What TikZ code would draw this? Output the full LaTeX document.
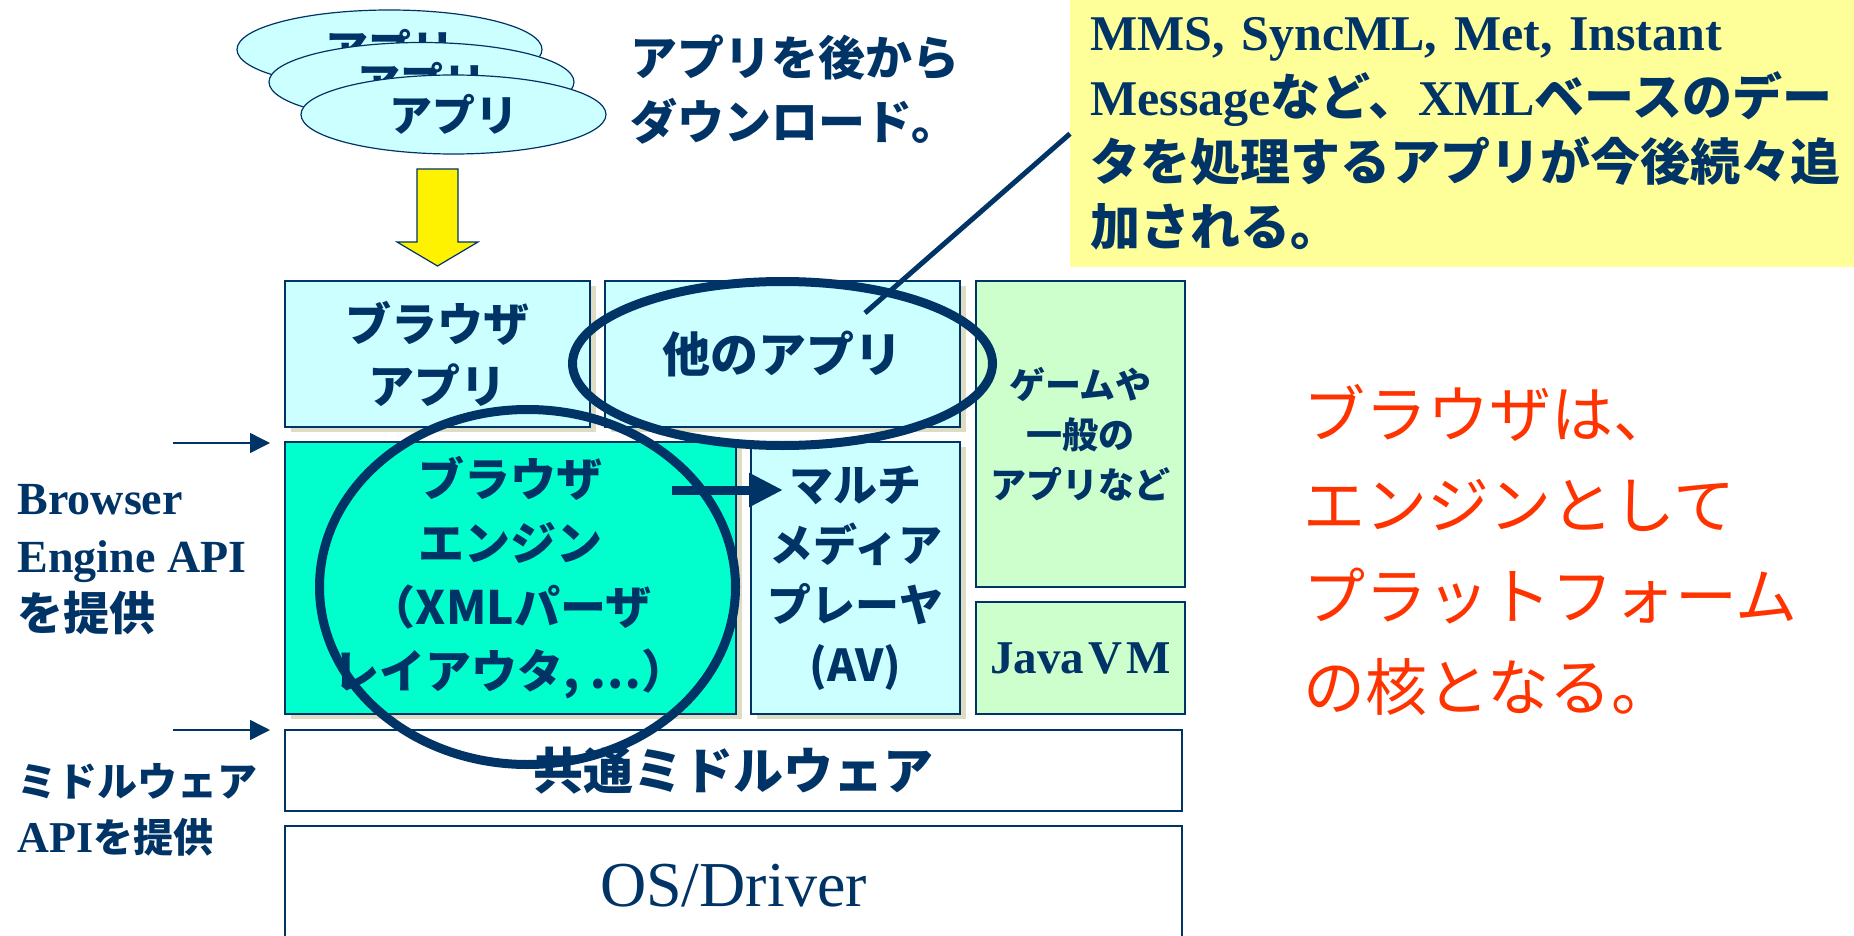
\documentclass[tikz,border=0pt]{standalone}
\usepackage{fontspec}
\setmainfont{Liberation Serif}
\newfontfamily\jpfont{Noto Sans CJK JP}
\usetikzlibrary{shapes.geometric,arrows.meta}

\definecolor{navy}{HTML}{003366}
\definecolor{paleCyan}{HTML}{CCFFFF}
\definecolor{engineTeal}{HTML}{00FFCC}
\definecolor{paleGreen}{HTML}{CCFFCC}
\definecolor{noteYellow}{HTML}{FFFF99}
\definecolor{shadowBeige}{HTML}{DEDCC2}
\definecolor{alertRed}{HTML}{FF3300}

\newcommand{\jp}[1]{{\jpfont\bfseries #1}}
\newcommand{\jpsize}[2]{\fontsize{#1}{#2}\selectfont\jpfont\bfseries}

\tikzset{
  layer/.style = {draw=navy, line width=1.2pt},
  shade/.style = {fill=shadowBeige},
  caption/.style = {text=navy, align=center},
  appDisc/.style = {ellipse, draw=navy, line width=1.2pt, fill=paleCyan,
    minimum width=305, minimum height=79, inner sep=0pt, text=navy,
    font=\jpsize{43}{43}},
  ring/.style = {ellipse, draw=navy, line width=9pt, inner sep=0pt},
  apiArrow/.style = {draw=navy, line width=1.5pt, -{Triangle[length=20pt, width=20pt]}},
  flowArrow/.style = {draw=navy, line width=9pt, -{Triangle[length=34pt, width=32pt]}},
  callout/.style = {draw=navy, line width=5pt},
}

\begin{document}
\begin{tikzpicture}[x=1pt, y=-1pt]
  \useasboundingbox (0,0) rectangle (1854,936);

  % downloaded apps
  \node[appDisc] (appBack) at (389.5,49.5) {アプリ};
  \node[appDisc] (appMid) at (421.5,82) {アプリ};
  \node[appDisc] (appFront) at (453.5,114.5) {アプリ};
  \draw[fill=yellow, draw=navy, line width=1.2pt] (417,169) -- (458,169) -- (458,242)
    -- (478,242) -- (437.5,266) -- (397,242) -- (417,242) -- cycle;
  \node[caption, align=left, anchor=west, font=\jpsize{47}{64}] (dlNote) at (627,90)
    {アプリを後から\\ダウンロード。};

  % note
  \node[fill=noteYellow, anchor=north west, minimum width=784, minimum height=267,
    text width=744, inner xsep=20pt, align=left, text=navy,
    font=\fontsize{50}{65}\selectfont] (note) at (1070,0)
    {{\bfseries MMS, SyncML, Met, Instant}\\
     {\bfseries Message}\jp{など、}{\bfseries XML}\jp{ベースのデー}\\
     \jp{タを処理するアプリが今後続々追}\\
     \jp{加される。}};

  % shadows
  \fill[shade] (291,286) rectangle (596,432);
  \fill[shade] (611,286) rectangle (966,432);
  \fill[shade] (291,447) rectangle (742,719);
  \fill[shade] (757,447) rectangle (966,719);

  % layers
  \draw[layer, fill=paleCyan] (285,281) rectangle node[caption, font=\jpsize{46}{62}] (browserApp) {ブラウザ\\アプリ} (590,427);
  \draw[layer, fill=paleCyan] (605,281) rectangle node[caption, font=\jpsize{48}{48}] (otherApp) {他のアプリ} (960,427);
  \draw[layer, fill=paleGreen] (976,281) rectangle node[caption, font=\jpsize{36}{50}] (gameApp) {ゲームや\\一般の\\アプリなど} (1185,587);
  \draw[layer, fill=engineTeal] (285,442) rectangle node[caption, font=\jpsize{46}{64}] (engine) {ブラウザ\\エンジン\\（XMLパーザ\\レイアウタ, …）} (736,714);
  \draw[layer, fill=paleCyan] (751,442) rectangle node[caption, font=\jpsize{44}{60}] (media) {マルチ\\メディア\\プレーヤ\\(AV)} (960,714);
  \draw[layer, fill=paleGreen] (976,602) rectangle node[caption, font=\fontsize{47}{47}\selectfont\bfseries] (javaVM) {Java\kern4pt V\kern4pt M} (1185,714);
  \draw[layer, fill=white] (285,730) rectangle node[caption, font=\jpsize{50}{50}] (middleware) {共通ミドルウェア} (1182,811);
  \draw[layer, fill=white] (285,826) rectangle node[caption, font=\fontsize{64}{64}\selectfont] (osDriver) {OS/Driver} (1182,945);

  % API labels
  \node[caption, align=left, anchor=west, font=\fontsize{46}{58}\selectfont\bfseries] (engineApi) at (14,560)
    {Browser\\Engine API\\\jp{を提供}};
  \node[caption, align=left, anchor=west, font=\fontsize{40}{56}\selectfont\bfseries] (middleApi) at (14,810)
    {\jp{ミドルウェア}\\{\fontsize{44}{56}\selectfont API}\jp{を提供}};
  \coordinate (engineApiFrom) at (173,443);
  \coordinate (engineApiTo) at (270,443);
  \coordinate (middleApiFrom) at (173,730);
  \coordinate (middleApiTo) at (270,730);
  \draw[apiArrow] (engineApiFrom) -- (engineApiTo);
  \draw[apiArrow] (middleApiFrom) -- (middleApiTo);

  % highlight rings
  \node[ring, minimum width=416, minimum height=355] (engineRing) at (527.5,587) {};
  \node[ring, minimum width=420, minimum height=164] (otherRing) at (782.5,363.5) {};
  \coordinate (flowFrom) at (672,490);
  \coordinate (flowTo) at (783,490);
  \draw[flowArrow] (flowFrom) -- (flowTo);
  \coordinate (otherTip) at (865,313);
  \draw[callout] (note.west) -- (otherTip);

  % message
  \node[align=left, anchor=west, text=alertRed, font=\fontsize{62}{91}\selectfont\jpfont] (platform) at (1300,550)
    {ブラウザは、\\エンジンとして\\プラットフォーム\\の核となる。};
\end{tikzpicture}
\end{document}
